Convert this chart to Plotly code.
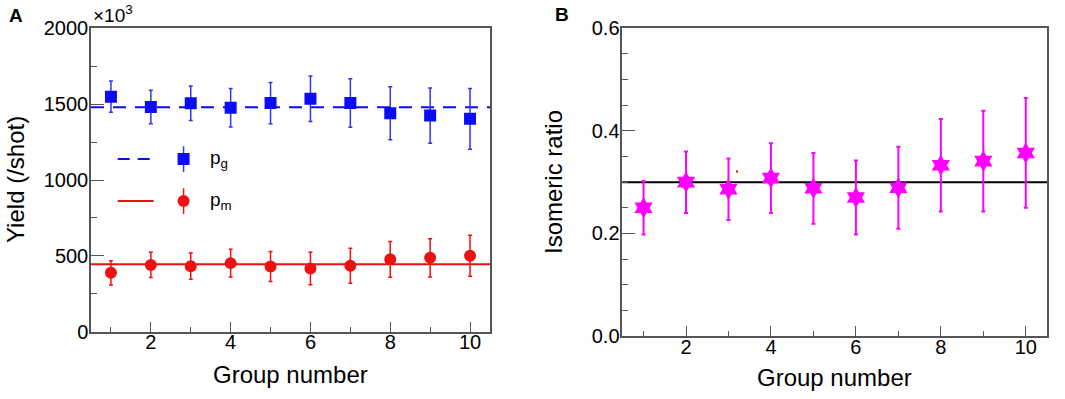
import plotly.graph_objects as go

# ---------------- data ----------------
groups = [1, 2, 3, 4, 5, 6, 7, 8, 9, 10]

pg_yield = [1549, 1481, 1506, 1476, 1507, 1536, 1508, 1440, 1425, 1403]
pg_err = [103, 111, 113, 127, 136, 150, 160, 175, 182, 200]
pg_fit = 1480

pm_yield = [388, 440, 432, 452, 430, 416, 435, 477, 487, 500]
pm_err = [80, 83, 87, 92, 99, 107, 115, 118, 126, 135]
pm_fit = 445

ratio = [0.250, 0.300, 0.286, 0.308, 0.288, 0.270, 0.289, 0.333, 0.341, 0.357]
ratio_err = [0.052, 0.060, 0.060, 0.068, 0.069, 0.072, 0.080, 0.090, 0.098, 0.107]
ratio_fit = 0.30

stray_dot_x = [3.2]
stray_dot_y = [0.321]

yield_ticks = [0, 500, 1000, 1500, 2000]
ratio_ticks = [0.0, 0.2, 0.4, 0.6]
group_ticks = [2, 4, 6, 8, 10]

# ---------------- styles ----------------
FONT = "Liberation Sans, Arial, Helvetica, sans-serif"
BLUE = "#0b0bf5"
BLUE_ERR = "#3434ee"
RED = "#ee1111"
MAGENTA = "#ff00ff"
FRAME = "#555555"
TICK_SIZE = 20
TITLE_SIZE = 24

W, H = 1065, 399

fig = go.Figure()

# Panel A
fig.add_trace(go.Scatter(
    x=groups, y=pg_yield, mode="markers",
    marker=dict(symbol="square", size=12, color=BLUE),
    error_y=dict(type="data", array=pg_err, visible=True, color=BLUE_ERR,
                 thickness=1.5, width=2),
    xaxis="x", yaxis="y", showlegend=False))
fig.add_trace(go.Scatter(
    x=groups, y=pm_yield, mode="markers",
    marker=dict(symbol="circle", size=12, color=RED),
    error_y=dict(type="data", array=pm_err, visible=True, color=RED,
                 thickness=1.5, width=2),
    xaxis="x", yaxis="y", showlegend=False))

# Panel A legend glyphs (hand-drawn legend)
leg_line_x = [1.17, 2.07]
leg_marker_x = 2.82
leg_label_x = 3.42
leg_pg_y = 1138
leg_pm_y = 861
leg_bar = 85

fig.add_trace(go.Scatter(
    x=leg_line_x, y=[leg_pg_y, leg_pg_y], mode="lines",
    line=dict(color=BLUE, width=2, dash="12px,8px"),
    xaxis="x", yaxis="y", showlegend=False, hoverinfo="skip"))
fig.add_trace(go.Scatter(
    x=leg_line_x, y=[leg_pm_y, leg_pm_y], mode="lines",
    line=dict(color=RED, width=2),
    xaxis="x", yaxis="y", showlegend=False, hoverinfo="skip"))
fig.add_trace(go.Scatter(
    x=[leg_marker_x], y=[leg_pg_y], mode="markers",
    marker=dict(symbol="square", size=12, color=BLUE),
    error_y=dict(type="data", array=[leg_bar], visible=True, color=BLUE_ERR,
                 thickness=1.5, width=0),
    xaxis="x", yaxis="y", showlegend=False, hoverinfo="skip"))
fig.add_trace(go.Scatter(
    x=[leg_marker_x], y=[leg_pm_y], mode="markers",
    marker=dict(symbol="circle", size=12, color=RED),
    error_y=dict(type="data", array=[leg_bar], visible=True, color=RED,
                 thickness=1.5, width=0),
    xaxis="x", yaxis="y", showlegend=False, hoverinfo="skip"))

# Panel B
fig.add_trace(go.Scatter(
    x=groups, y=ratio, mode="markers",
    marker=dict(symbol="hexagram", size=16, color=MAGENTA),
    error_y=dict(type="data", array=ratio_err, visible=True, color=MAGENTA,
                 thickness=2, width=2),
    xaxis="x2", yaxis="y2", showlegend=False))
fig.add_trace(go.Scatter(
    x=stray_dot_x, y=stray_dot_y, mode="markers",
    marker=dict(symbol="square", size=2, color="red"),
    xaxis="x2", yaxis="y2", showlegend=False, hoverinfo="skip"))

# fit lines
fig.add_shape(type="line", xref="x domain", yref="y", x0=0, x1=1,
              y0=pg_fit, y1=pg_fit, line=dict(color=BLUE, width=2, dash="13px,9px"),
              layer="below")
fig.add_shape(type="line", xref="x domain", yref="y", x0=0, x1=1,
              y0=pm_fit, y1=pm_fit, line=dict(color=RED, width=2), layer="below")
fig.add_shape(type="line", xref="x2 domain", yref="y2", x0=0, x1=1,
              y0=ratio_fit, y1=ratio_fit, line=dict(color="black", width=2),
              layer="below")

axis_common = dict(showline=True, mirror=True, linecolor=FRAME, linewidth=1.5,
                   showgrid=False, zeroline=False, ticks="inside",
                   tickcolor=FRAME, tickwidth=1.2,
                   tickfont=dict(family=FONT, size=TICK_SIZE, color="black"),
                   automargin=False)

fig.update_layout(
    width=W, height=H,
    margin=dict(l=0, r=0, t=0, b=0, autoexpand=False),
    paper_bgcolor="white", plot_bgcolor="white",
    template=None,
    font=dict(family=FONT, color="black"),
    xaxis=dict(domain=[91 / W, 490 / W], range=[0.5, 10.5], anchor="y",
               tickvals=group_ticks, ticklen=10, ticklabelstandoff=-8,
               minor=dict(dtick=1, tick0=1, ticks="inside", ticklen=5,
                          tickcolor=FRAME, tickwidth=1.2),
               **axis_common),
    yaxis=dict(domain=[1 - 331.7 / H, 1 - 28.3 / H], range=[0, 2000], anchor="x",
               tickvals=yield_ticks, ticklen=13, ticklabelstandoff=-3,
               minor=dict(dtick=250, tick0=0, ticks="inside", ticklen=6,
                          tickcolor=FRAME, tickwidth=1.2),
               **axis_common),
    xaxis2=dict(domain=[622.3 / W, 1047 / W], range=[0.5, 10.5], anchor="y2",
                tickvals=group_ticks, ticklen=10, ticklabelstandoff=-8,
                minor=dict(dtick=1, tick0=1, ticks="inside", ticklen=5,
                           tickcolor=FRAME, tickwidth=1.2),
                **axis_common),
    yaxis2=dict(domain=[1 - 336 / H, 1 - 28.3 / H], range=[0, 0.6], anchor="x2",
                tickvals=ratio_ticks, tickformat=".1f", ticklen=13,
                ticklabelstandoff=-3,
                minor=dict(dtick=0.05, tick0=0, ticks="inside", ticklen=6,
                           tickcolor=FRAME, tickwidth=1.2),
                **axis_common),
)

def ann(text, x, y, size, **kw):
    fig.add_annotation(text=text, x=x / W, y=1 - y / H, xref="paper", yref="paper",
                       showarrow=False, font=dict(family=FONT, size=size, color="black"),
                       **kw)

# panel letters
ann("<b>A</b>", 7, 15, 19, xanchor="left", yanchor="middle")
ann("<b>B</b>", 553, 14, 19, xanchor="left", yanchor="middle")
# exponent label
ann("×10<sup>3</sup>", 91, 14, 19, xanchor="left", yanchor="middle")
# axis titles
ann("Group number", 290.5, 374, TITLE_SIZE, xanchor="center", yanchor="middle")
ann("Group number", 834.5, 377, TITLE_SIZE, xanchor="center", yanchor="middle")
ann("Yield (/shot)", 15, 180, TITLE_SIZE, xanchor="center", yanchor="middle", textangle=-90)
ann("Isomeric ratio", 553, 182, TITLE_SIZE, xanchor="center", yanchor="middle", textangle=-90)

# legend labels
fig.add_annotation(text="p<sub>g</sub>", x=leg_label_x, y=leg_pg_y, xref="x", yref="y",
                   showarrow=False, xanchor="left", yanchor="middle",
                   font=dict(family=FONT, size=19, color="black"))
fig.add_annotation(text="p<sub>m</sub>", x=leg_label_x, y=leg_pm_y, xref="x", yref="y",
                   showarrow=False, xanchor="left", yanchor="middle",
                   font=dict(family=FONT, size=19, color="black"))

fig.write_html("out.html", config={"displayModeBar": False},
               post_script="document.body.style.margin='0';document.body.style.overflow='hidden';")
